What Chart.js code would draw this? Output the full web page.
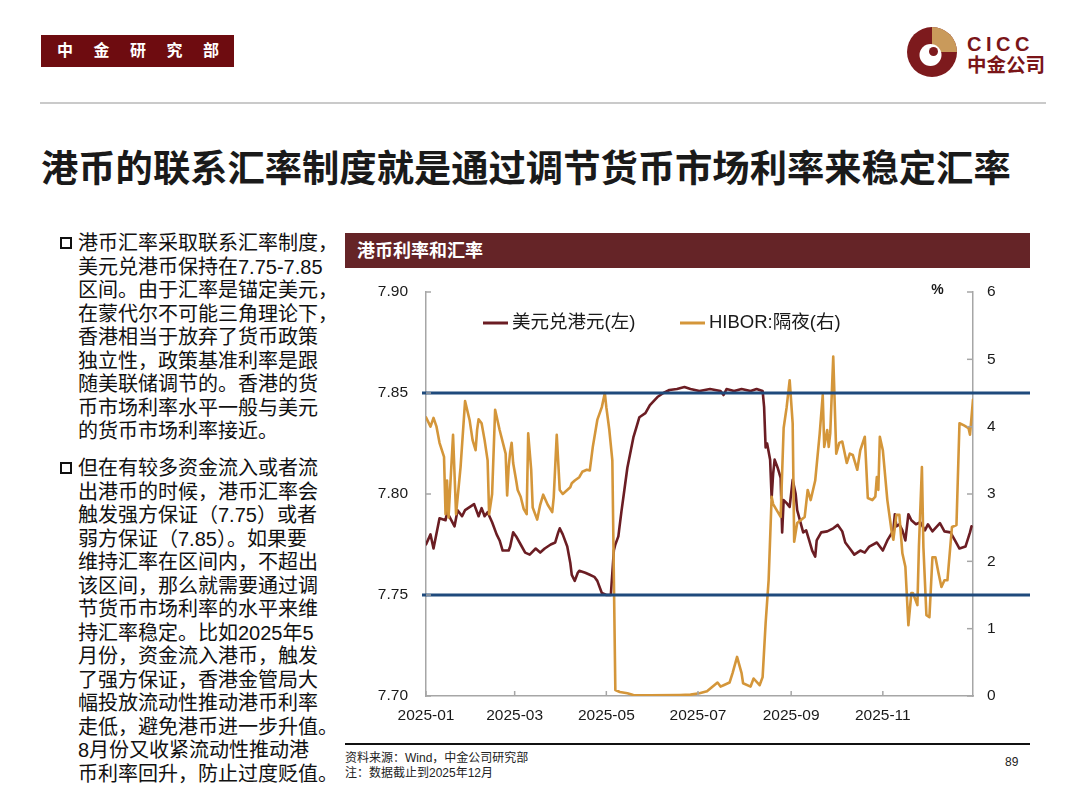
<!DOCTYPE html>
<html lang="zh-CN">
<head>
<meta charset="utf-8">
<title>港币利率和汇率</title>
<script src="https://cdn.jsdelivr.net/npm/chart.js"></script>
<style>
  html, body { margin: 0; padding: 0; background: #fff; }
  body {
    width: 1080px; height: 806px; position: relative; overflow: hidden;
    font-family: "Liberation Sans", "Noto Sans CJK SC", sans-serif; color: #1a1a1a;
  }
  .abs { position: absolute; white-space: nowrap; }
  #dept {
    left: 41px; top: 35px; width: 193px; height: 32px; background: #6e0c10;
    color: #fff; font-size: 16px; font-weight: bold; line-height: 32px;
    text-indent: 16px; letter-spacing: 20.5px;
  }
  #logo { left: 905px; top: 25px; }
  #cicc { left: 967px; top: 34px; font-size: 20px; line-height: 20px; font-weight: bold; color: #7a1518; letter-spacing: 4.5px; }
  #cicc-cn { left: 967px; top: 55px; font-size: 19.5px; line-height: 20px; font-weight: bold; color: #7a1518; }
  #rule { left: 40px; top: 102px; width: 1006px; height: 2px; background: #cacaca; }
  #title { left: 41px; top: 149px; font-size: 37.3px; line-height: 40px; font-weight: bold; color: #1a1a1a; }
  .para { left: 78px; font-size: 20px; line-height: 23.5px; color: #111; }
  .box { width: 8px; height: 8px; border: 2.5px solid #111; left: 60px; }
  #panel {
    left: 345px; top: 233px; width: 685px; height: 35px; background: #652427;
    color: #fff; font-size: 18px; font-weight: bold; line-height: 37px; text-indent: 12px;
  }
  #chartBox { left: 345px; top: 275px; width: 695px; height: 460px; }
  #foot-rule { left: 345px; top: 743px; width: 685px; height: 2px; background: #111; }
  #source { left: 345px; top: 751px; font-size: 12px; line-height: 15px; color: #222; }
  #page { left: 1005px; top: 755px; font-size: 12px; line-height: 15px; color: #222; }
</style>
</head>
<body>
<div id="dept" class="abs">中金研究部</div>
<svg id="logo" class="abs" width="56" height="56" viewBox="0 0 56 56">
  <circle cx="27" cy="27" r="25" fill="#7d1a1d"/>
  <path d="M27,2 A25,25 0 0,1 52,27 L27,27 Z" fill="#c99a5b"/>
  <circle cx="25.5" cy="30" r="11" fill="#fff"/>
  <circle cx="28.5" cy="26.5" r="4.5" fill="#7d1a1d"/>
</svg>
<div id="cicc" class="abs">CICC</div>
<div id="cicc-cn" class="abs">中金公司</div>
<div id="rule" class="abs"></div>

<div id="title" class="abs">港币的联系汇率制度就是通过调节货币市场利率来稳定汇率</div>

<div class="abs box" style="top:237px"></div>
<div class="abs para" style="top:232px">港币汇率采取联系汇率制度，<br>美元兑港币保持在7.75-7.85<br>区间。由于汇率是锚定美元，<br>在蒙代尔不可能三角理论下，<br>香港相当于放弃了货币政策<br>独立性，政策基准利率是跟<br>随美联储调节的。香港的货<br>币市场利率水平一般与美元<br>的货币市场利率接近。</div>

<div class="abs box" style="top:462px"></div>
<div class="abs para" style="top:457px">但在有较多资金流入或者流<br>出港币的时候，港币汇率会<br>触发强方保证（7.75）或者<br>弱方保证（7.85）。如果要<br>维持汇率在区间内，不超出<br>该区间，那么就需要通过调<br>节货币市场利率的水平来维<br>持汇率稳定。比如2025年5<br>月份，资金流入港币，触发<br>了强方保证，香港金管局大<br>幅投放流动性推动港币利率<br>走低，避免港币进一步升值。<br>8月份又收紧流动性推动港<br>币利率回升，防止过度贬值。</div>

<div id="panel" class="abs">港币利率和汇率</div>
<div id="chartBox" class="abs"><canvas id="chart"></canvas></div>
<div id="foot-rule" class="abs"></div>
<div id="source" class="abs">资料来源：Wind，中金公司研究部<br>注：数据截止到2025年12月</div>
<div id="page" class="abs">89</div>

<script>
// series names
const seriesNames = ['美元兑港元(左)', 'HIBOR:隔夜(右)'];

// x tick labels (month starts)
const tickLabels = ['2025-01', '2025-03', '2025-05', '2025-07', '2025-09', '2025-11'];
const leftTicks = [7.70, 7.75, 7.80, 7.85, 7.90];
const rightTicks = [0, 1, 2, 3, 4, 5, 6];
const pegBand = [7.75, 7.85]; // strong-side / weak-side convertibility

// USD/HKD, days since 2025-01-01
const usdDays = [
  0, 3, 5, 9, 13, 14, 19, 21, 24, 26,
  32, 35, 37, 39, 41, 44, 47, 49, 51, 55,
  56, 58, 60, 63, 66, 69, 73, 76, 79, 83,
  86, 88, 89, 91, 94, 96, 97, 99, 101, 102,
  106, 109, 112, 114, 117, 120, 123, 125, 126, 128,
  130, 132, 134, 138, 140, 142, 146, 149, 154, 158,
  162, 167, 172, 176, 182, 189, 196, 198, 200, 205,
  210, 216, 220, 224, 225, 226, 227, 229, 230, 231,
  232, 234, 236, 237, 238, 240, 242, 244, 246, 247,
  251, 253, 255, 257, 259, 260, 263, 267, 271, 274,
  277, 279, 282, 285, 289, 292, 295, 300, 304, 307,
  311, 312, 313, 315, 317, 319, 321, 323, 326, 329,
  332, 334, 337, 342, 345, 349, 352, 355, 359, 362, 363
];
const usdHkd = [
  7.775, 7.780, 7.773, 7.788, 7.787, 7.791, 7.784, 7.792, 7.789, 7.792,
  7.795, 7.789, 7.793, 7.789, 7.791, 7.786, 7.780, 7.777, 7.772, 7.772,
  7.774, 7.781, 7.779, 7.775, 7.771, 7.770, 7.773, 7.771, 7.773, 7.775,
  7.776, 7.781, 7.783, 7.780, 7.774, 7.766, 7.760, 7.757, 7.761, 7.762,
  7.761, 7.760, 7.759, 7.757, 7.751, 7.750, 7.750, 7.772, 7.775, 7.779,
  7.791, 7.802, 7.813, 7.828, 7.833, 7.838, 7.840, 7.844, 7.848, 7.850,
  7.8515, 7.852, 7.853, 7.852, 7.851, 7.852, 7.851, 7.849, 7.852, 7.851,
  7.852, 7.851, 7.852, 7.851, 7.843, 7.823, 7.825, 7.817, 7.798, 7.810,
  7.817, 7.813, 7.808, 7.781, 7.797, 7.7955, 7.7936, 7.807, 7.800, 7.792,
  7.781, 7.782, 7.777, 7.772, 7.769, 7.777, 7.781, 7.7815, 7.783, 7.7847,
  7.7815, 7.776, 7.773, 7.770, 7.772, 7.771, 7.774, 7.776, 7.772, 7.777,
  7.782, 7.790, 7.784, 7.785, 7.782, 7.777, 7.790, 7.787, 7.785, 7.786,
  7.782, 7.785, 7.7815, 7.7856, 7.7815, 7.781, 7.777, 7.773, 7.774, 7.781, 7.784
];

// HIBOR overnight (%), days since 2025-01-01
const hiborDays = [
  0, 3, 5, 7, 9, 12, 13, 14, 15, 18,
  20, 23, 26, 29, 31, 33, 34, 35, 37, 39,
  41, 42, 44, 46, 47, 49, 53, 54, 55, 56,
  57, 58, 60, 61, 63, 65, 67, 68, 70, 71,
  74, 76, 78, 81, 84, 85, 87, 89, 91, 94,
  96, 97, 99, 102, 104, 107, 109, 111, 114, 117,
  119, 120, 122, 124, 126, 129, 134, 138, 149, 169,
  176, 182, 187, 194, 196, 198, 202, 204, 207, 210,
  211, 216, 218, 222, 224, 226, 228, 230, 231, 236,
  238, 240, 242, 244, 245, 247, 252, 254, 256, 259,
  262, 264, 265, 267, 268, 269, 271, 273, 275, 277,
  280, 282, 284, 287, 289, 292, 294, 297, 299, 300,
  301, 302, 304, 307, 310, 311, 313, 315, 317, 319,
  321, 323, 324, 327, 328, 330, 331, 333, 335, 337,
  339, 341, 343, 345, 347, 350, 353, 355, 358, 361,
  362, 364
];
const hibor = [
  4.14, 4.0, 4.13, 4.0, 3.76, 3.55, 2.7, 3.2, 2.65, 3.88,
  2.7, 3.4, 4.38, 4.1, 3.8, 3.65, 3.95, 4.11, 4.05, 3.8,
  3.5, 2.7, 3.0, 4.25, 4.15, 3.95, 3.6, 2.98, 3.4, 3.62,
  3.76, 3.46, 3.2, 3.06, 2.96, 2.78, 2.7, 3.9, 3.36, 2.8,
  2.62, 2.84, 2.99, 2.84, 2.73, 2.95, 3.88, 3.06, 3.0, 3.06,
  3.1, 3.16, 3.2, 3.25, 3.33, 3.36, 3.35, 3.7, 4.1, 4.29,
  4.5, 4.29, 3.95, 3.5, 0.09, 0.06, 0.04, 0.015, 0.01, 0.015,
  0.02, 0.04, 0.07, 0.2, 0.14, 0.16, 0.2, 0.34, 0.58, 0.34,
  0.19, 0.14, 0.26, 0.16, 0.28, 1.08, 1.72, 2.96, 2.85, 2.66,
  3.98, 4.29, 4.69, 4.05, 2.29, 2.57, 2.66, 3.06, 2.91, 3.2,
  3.9, 4.47, 3.7, 3.95, 3.7, 3.9, 5.04, 3.6, 3.76, 3.78,
  3.46, 3.6, 3.58, 3.36, 3.65, 3.85, 2.94, 2.91, 2.96, 3.25,
  3.06, 3.85, 3.65, 2.91, 2.42, 2.32, 2.69, 2.69, 2.12, 1.92,
  1.05, 1.53, 1.53, 1.35, 2.21, 3.4, 2.21, 1.2, 1.17, 2.06,
  2.06, 1.83, 1.62, 1.72, 1.72, 2.51, 2.54, 4.05, 4.02, 3.98,
  3.88, 4.4
];

const usdColor = '#6b1d23';
const hiborColor = '#d4963a';
const axisColor = '#a6a6a6';
const textColor = '#1a1a1a';
const fontFamily = '"Liberation Sans", "Noto Sans CJK SC", sans-serif';

// tick label -> day offset from Jan 1
const dayOf = (label) => {
  const [yy, mm] = label.split('-').map(Number);
  return (Date.UTC(yy, mm - 1, 1) - Date.UTC(yy, 0, 1)) / 86400000;
};
const tickDays = tickLabels.map(dayOf);

const toPoints = (days, vals) => days.map((d, i) => ({ x: d, y: vals[i] }));

// fixed axis size, no extra padding from the tick labels
const fixWidth = (w) => (axis) => {
  axis.width = w;
  axis.paddingTop = 0;
  axis.paddingBottom = 0;
};

// draws peg lines, inward ticks, % unit and the inline legend
const overlay = {
  id: 'overlay',
  afterDatasetsDraw(chart) {
    const { ctx, chartArea: a, scales: { x, y, y1 } } = chart;
    ctx.save();

    ctx.strokeStyle = '#1f4a7c';
    ctx.lineWidth = 3;
    pegBand.forEach(v => {
      const py = y.getPixelForValue(v);
      ctx.beginPath();
      ctx.moveTo(a.left - 4, py);
      ctx.lineTo(chart.width - 10, py);
      ctx.stroke();
    });

    ctx.strokeStyle = axisColor;
    ctx.lineWidth = 1.5;
    const seg = (x0, y0, x1, yy1) => { ctx.beginPath(); ctx.moveTo(x0, y0); ctx.lineTo(x1, yy1); ctx.stroke(); };
    y.ticks.forEach(t => { const p = y.getPixelForValue(t.value); seg(a.left, p, a.left + 5, p); });
    y1.ticks.forEach(t => { const p = y1.getPixelForValue(t.value); seg(a.right - 6, p, a.right, p); });
    x.ticks.forEach(t => { const p = x.getPixelForValue(t.value); seg(p, a.bottom, p, a.bottom - 5); });

    ctx.fillStyle = textColor;
    ctx.font = 'bold 14px ' + fontFamily;
    ctx.textAlign = 'center';
    ctx.textBaseline = 'middle';
    ctx.fillText('%', 592.5, 15);

    const items = [
      { text: seriesNames[0], color: usdColor, x: 138 },
      { text: seriesNames[1], color: hiborColor, x: 335 }
    ];
    ctx.font = '18.5px ' + fontFamily;
    ctx.textAlign = 'left';
    items.forEach(it => {
      ctx.strokeStyle = it.color;
      ctx.lineWidth = 3;
      seg(it.x, 48, it.x + 25, 48);
      ctx.fillText(it.text, it.x + 29, 48);
    });
    ctx.restore();
  }
};

const tickFont = { family: fontFamily, size: 15.5 };

new Chart(document.getElementById('chart'), {
  type: 'line',
  data: {
    datasets: [
      {
        label: seriesNames[0],
        data: toPoints(usdDays, usdHkd),
        yAxisID: 'y',
        borderColor: usdColor,
        borderWidth: 2.6,
        pointRadius: 0,
        tension: 0,
        order: 2
      },
      {
        label: seriesNames[1],
        data: toPoints(hiborDays, hibor),
        yAxisID: 'y1',
        borderColor: hiborColor,
        borderWidth: 2.6,
        pointRadius: 0,
        tension: 0,
        order: 1
      }
    ]
  },
  options: {
    responsive: true,
    maintainAspectRatio: false,
    animation: false,
    events: [],
    layout: { padding: { top: 17, left: 0, right: 0, bottom: 0 }, autoPadding: false },
    elements: { line: { borderJoinStyle: 'round', borderCapStyle: 'round' } },
    plugins: { legend: { display: false }, tooltip: { enabled: false } },
    scales: {
      x: {
        type: 'linear',
        min: 0,
        max: 364,
        afterBuildTicks: (axis) => { axis.ticks = tickDays.map(v => ({ value: v })); },
        afterFit: (axis) => { axis.height = 39; axis.paddingLeft = 0; axis.paddingRight = 0; },
        ticks: {
          autoSkip: false, maxRotation: 0, padding: 10,
          color: textColor, font: tickFont,
          callback: (v) => tickLabels[tickDays.indexOf(v)]
        },
        grid: { display: true, drawOnChartArea: false, drawTicks: false },
        border: { color: axisColor, width: 1.5 }
      },
      y: {
        position: 'left',
        min: 7.70,
        max: 7.90,
        afterBuildTicks: (axis) => { axis.ticks = leftTicks.map(v => ({ value: v })); },
        afterFit: fixWidth(81),
        ticks: { padding: 18, color: textColor, font: tickFont, callback: (v) => v.toFixed(2) },
        grid: { display: true, drawOnChartArea: false, drawTicks: false },
        border: { color: axisColor, width: 1.5 }
      },
      y1: {
        position: 'right',
        min: 0,
        max: 6,
        afterBuildTicks: (axis) => { axis.ticks = rightTicks.map(v => ({ value: v })); },
        afterFit: fixWidth(67),
        ticks: { padding: 14, color: textColor, font: tickFont },
        grid: { display: true, drawOnChartArea: false, drawTicks: false },
        border: { color: axisColor, width: 1.5 }
      }
    }
  },
  plugins: [overlay]
});
</script>
</body>
</html>
